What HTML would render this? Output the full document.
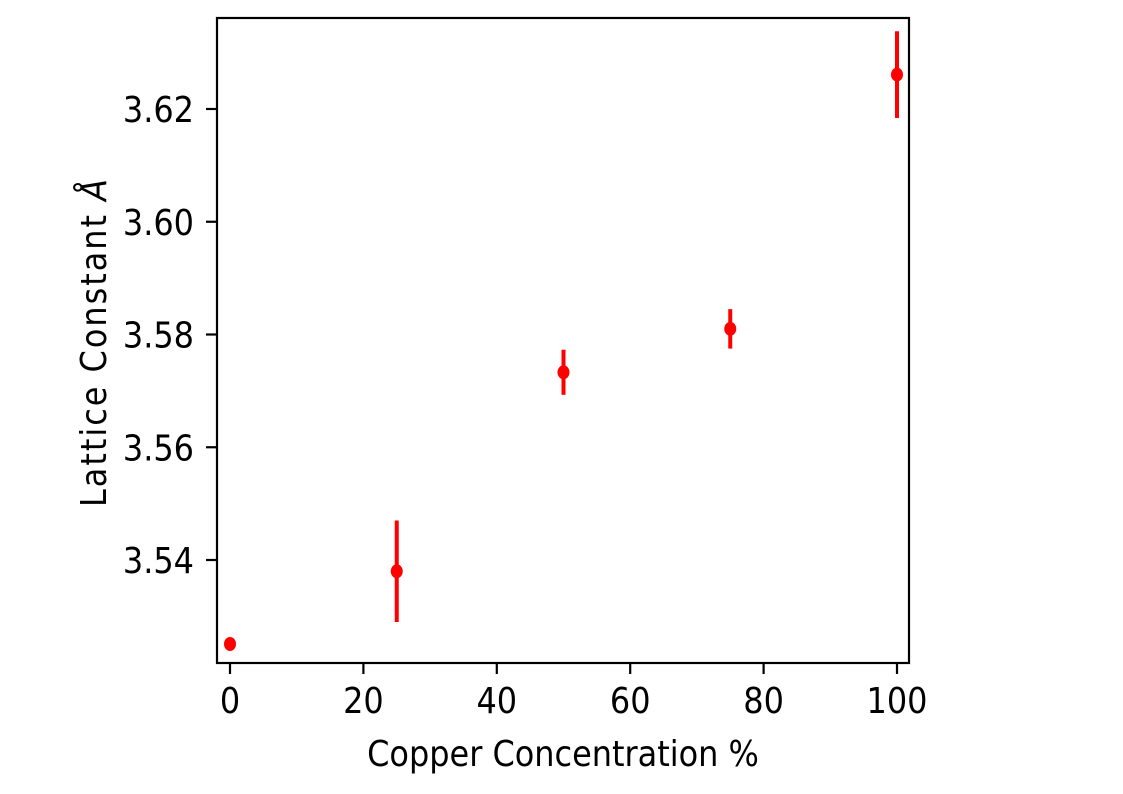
<!DOCTYPE html>
<html><head><meta charset="utf-8"><style>
html,body{margin:0;padding:0;background:#fff;width:1123px;height:794px;overflow:hidden}
text{font-family:"DejaVu Sans Condensed","DejaVu Sans","Liberation Sans",sans-serif;font-stretch:condensed;fill:#000}
</style></head><body>
<svg id="chart" width="1123" height="794" xmlns="http://www.w3.org/2000/svg">
<rect x="217" y="18" width="692" height="645" fill="none" stroke="#000" stroke-width="2.2"/>
<g id="xt"></g><g id="yt"></g><g id="pts"></g>
<text x="563" y="766" font-size="35.5" text-anchor="middle">Copper Concentration %</text>
<text transform="translate(106,343) rotate(-90)" font-size="35.5" text-anchor="middle" textLength="328" lengthAdjust="spacing">Lattice Constant <tspan font-style="italic">Å</tspan></text>
</svg>
<script>
const concentrations=[0,25,50,75,100];
const latticeValues=[3.5251,3.5380,3.5733,3.5810,3.6261];
const latticeErrors=[0.0004,0.0090,0.0040,0.0035,0.0077];
const xTicks=[0,20,40,60,80,100];
const yTicks=[3.54,3.56,3.58,3.60,3.62];
const yTickLabels=["3.54","3.56","3.58","3.60","3.62"];
const NS="http://www.w3.org/2000/svg";
const xs=v=>230+v*(897-230)/100;
const ys=v=>560-(v-3.54)*(560-109)/0.08;
function mk(tag,attrs,parent){const e=document.createElementNS(NS,tag);for(const k in attrs)e.setAttribute(k,attrs[k]);parent.appendChild(e);return e;}
const xt=document.getElementById('xt'),yt=document.getElementById('yt'),pts=document.getElementById('pts');
xTicks.forEach(t=>{
 const l=mk('line',{x1:xs(t),x2:xs(t),y1:663,y2:674,stroke:'#000','stroke-width':2.2},xt);
 
 
 const tx=mk('text',{x:xs(t),y:713,'font-size':35.5,'text-anchor':'middle'},xt);tx.textContent=t;
 
 
});
yTicks.forEach((t,i)=>{
 const l=mk('line',{x1:206,x2:217,y1:ys(t),y2:ys(t),stroke:'#000','stroke-width':2.2},yt);
 
 
 const tx=mk('text',{x:194,y:ys(t)+13,'font-size':35.5,'text-anchor':'end'},yt);tx.textContent=yTickLabels[i];
 
 
});
concentrations.forEach((c,i)=>{
 const v=latticeValues[i],e=latticeErrors[i];
 const eb=mk('line',{x1:xs(c),x2:xs(c),y1:ys(v+e),y2:ys(v-e),stroke:'#ff0000','stroke-width':4},pts);
 
 
 const p=mk('ellipse',{cx:xs(c),cy:ys(v),rx:6,ry:7,fill:'#ff0000'},pts);
 
 
});
</script>
</body></html>
